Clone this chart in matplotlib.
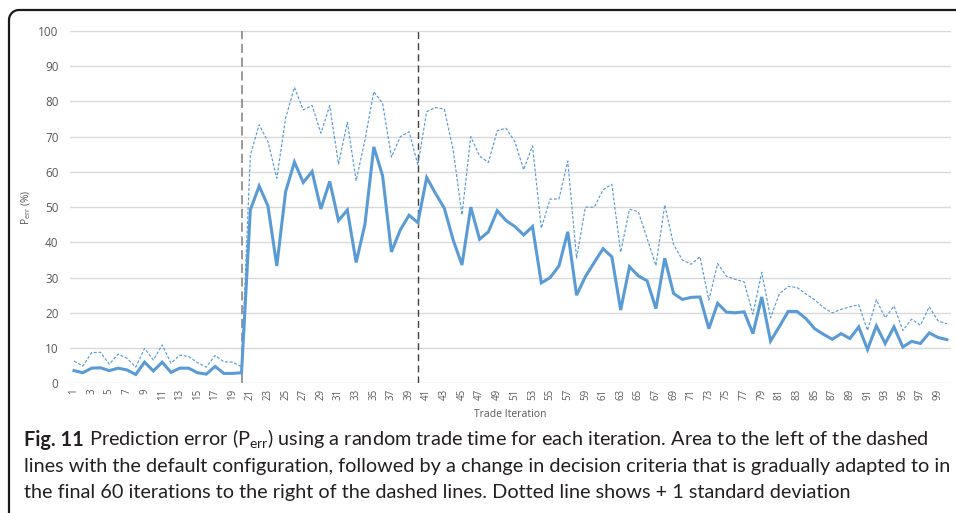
import matplotlib.pyplot as plt
import numpy as np
from matplotlib.lines import Line2D

# iteration numbers and the two series
iterations = list(range(1, 101))
p_err = [3.6, 3.0, 4.3, 4.4, 3.6, 4.3, 3.8, 2.5, 6.0, 3.5,
         6.0, 3.1, 4.3, 4.3, 3.0, 2.6, 4.8, 2.8, 2.8, 3.0,
         49.2, 56.0, 50.3, 33.3, 54.4, 62.8, 57.0, 60.1, 49.5, 57.3,
         46.2, 49.2, 34.3, 45.2, 67.1, 58.9, 37.3, 43.5, 47.7, 45.6,
         58.4, 53.9, 49.7, 40.7, 33.6, 50.0, 40.9, 43.0, 49.0, 46.2,
         44.5, 42.1, 44.5, 28.5, 30.0, 33.3, 43.0, 25.0, 30.3, 34.3,
         38.2, 35.9, 20.8, 33.1, 30.5, 29.1, 21.2, 35.5, 25.5, 23.8,
         24.4, 24.5, 15.5, 22.7, 20.2, 20.0, 20.3, 14.1, 24.5, 12.0,
         16.1, 20.4, 20.4, 18.4, 15.5, 13.9, 12.5, 14.1, 12.7, 16.0,
         9.6, 16.3, 11.3, 16.0, 10.3, 11.9, 11.3, 14.3, 13.0, 12.4]
p_err_sd = [6.3, 4.9, 8.7, 8.8, 5.4, 8.3, 7.1, 4.6, 9.9, 6.6,
            10.9, 5.7, 8.0, 7.6, 5.9, 4.6, 7.9, 6.1, 6.0, 4.7,
            64.8, 73.4, 68.6, 58.2, 75.3, 84.0, 77.6, 78.9, 71.0, 78.8,
            62.2, 74.1, 57.5, 69.1, 82.8, 79.5, 64.2, 70.0, 71.4, 62.0,
            77.1, 78.3, 77.8, 66.3, 47.8, 70.0, 64.5, 62.7, 71.7, 72.4,
            68.6, 60.6, 67.4, 44.0, 52.3, 52.3, 63.1, 35.5, 50.0, 50.0,
            54.9, 56.5, 37.2, 49.4, 48.7, 41.1, 33.4, 50.6, 39.4, 35.0,
            33.8, 35.9, 23.6, 34.0, 30.4, 29.5, 28.8, 19.6, 31.5, 18.6,
            25.4, 27.5, 27.2, 25.4, 23.7, 21.5, 20.0, 21.0, 21.7, 22.3,
            15.0, 23.7, 18.6, 21.9, 15.0, 18.2, 16.5, 21.7, 17.7, 16.9]
boundaries = [20, 40]
y_ticks = list(range(0, 101, 10))
x_tick_labels = [str(i) for i in iterations if i % 2 == 1]

caption_1 = r" Prediction error (P$_{\mathregular{err}}$) using a random trade time for each iteration. Area to the left of the dashed"
caption_2 = "lines with the default configuration, followed by a change in decision criteria that is gradually adapted to in"
caption_3 = "the final 60 iterations to the right of the dashed lines. Dotted line shows + 1 standard deviation"

W, H = 956, 513
fig = plt.figure(figsize=(W / 100, H / 100), dpi=100)
ax = fig.add_axes([69.6 / W, 1 - 383.3 / H, (951.3 - 69.6) / W, (383.3 - 31) / H])

blue = '#5B9BD5'
ax.plot(iterations, p_err, color=blue, lw=2.2, solid_joinstyle='miter', zorder=3)
ax.plot(iterations, p_err_sd, color=blue, lw=0.85, ls=(0, (2.5, 1.5)), zorder=3)

# phase boundaries
ax.axvline(boundaries[0], color='#7f7f7f', lw=1.1, ls=(0, (6, 3)), zorder=2)
ax.axvline(boundaries[1], color='#404040', lw=1.0, ls=(0, (5, 3)), zorder=2)

ax.set_xlim(0.5, 100.5)
ax.set_ylim(0, 100)
ax.set_yticks(y_ticks)
ax.set_xticks([i for i in iterations if i % 2 == 1])
ax.set_xticklabels(x_tick_labels, rotation=90)
ax.grid(axis='y', color='#d9d9d9', lw=1.0)
ax.set_axisbelow(True)
for s in ax.spines.values():
    s.set_visible(False)
ax.tick_params(axis='both', length=0, colors='#595959')
ax.tick_params(axis='y', labelsize=8.5, pad=8)
ax.tick_params(axis='x', labelsize=7, pad=4)
for lab in ax.get_xticklabels() + ax.get_yticklabels():
    lab.set_family('Open Sans')

ax.set_ylabel(r"P$_{\mathregular{err}}$ (%)", fontsize=7.5, color='#595959', family='Open Sans')
ax.yaxis.set_label_coords(-0.0415, 0.5)
ax.set_xlabel("Trade Iteration", fontsize=7.5, color='#595959', family='Open Sans')
ax.xaxis.set_label_coords(0.5, -0.072)

# rounded frame (left + top)
r = 10
th = np.linspace(np.pi, np.pi / 2, 20)
fx = np.concatenate([[9], 9 + r + r * np.cos(th), [W]])
fy = np.concatenate([[H], 10 + r - r * np.sin(th), [10]])
fig.add_artist(Line2D(fx / W, 1 - fy / H, color='#1a1a1a', lw=1.6,
                      transform=fig.transFigure))

# caption
cap_font = ['Lato', 'DejaVu Sans']
fs = 13
x0 = 24
t2 = fig.text(x0 / W, 1 - 472 / H, caption_2, fontsize=fs, family=cap_font, color='#231f20')
renderer = fig.canvas.get_renderer()
w2 = t2.get_window_extent(renderer).width
fs = fs * 924 / w2
t2.set_fontsize(fs)
t3 = fig.text(x0 / W, 1 - 498 / H, caption_3, fontsize=fs, family=cap_font, color='#231f20')
tb = fig.text(x0 / W, 1 - 446 / H, "Fig. 11", fontsize=fs, family=cap_font,
              weight='bold', color='#231f20')
wb = tb.get_window_extent(renderer).width
fig.text((x0 + wb) / W, 1 - 446 / H, caption_1, fontsize=fs, family=cap_font, color='#231f20')

fig.savefig('out.png', dpi=100)
